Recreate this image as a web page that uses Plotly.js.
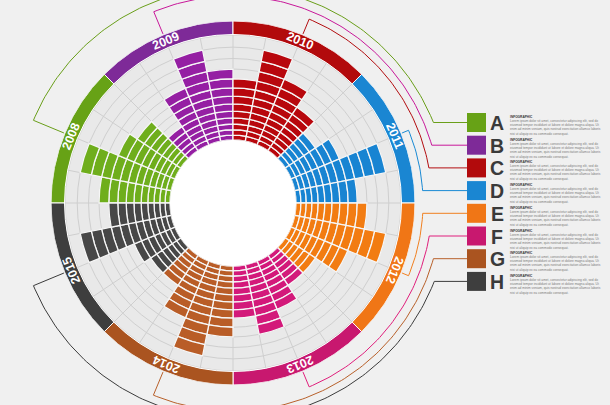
<!DOCTYPE html>
<html><head><meta charset="utf-8">
<script src="https://cdn.plot.ly/plotly-3.0.1.min.js"></script>
<style>html,body{margin:0;padding:0;background:#f0f0f0}#chart{width:610px;height:405px}</style>
</head><body><div id="chart"></div>
<script>
// ---- data ----
const years   = ['2008','2009','2010','2011','2012','2013','2014','2015'];
const letters = ['A','B','C','D','E','F','G','H'];
const cells2008 = [10, 12, 9, 8];
const cells2009 = [5, 9, 12, 10];
const cells2010 = [9, 12, 10, 8];
const cells2011 = [6, 8, 12, 9];
const cells2012 = [10, 12, 9, 6];
const cells2013 = [6, 8, 10, 8];
const cells2014 = [10, 12, 9, 6];
const cells2015 = [6, 7, 12, 9];
const legendTitle = 'INFOGRAPHIC';
const loremLines = [
  'Lorem ipsum dolor sit amet, consectetur adipiscing elit, sed do',
  'eiusmod tempor incididunt ut labore et dolore magna aliqua. Ut',
  'enim ad minim veniam, quis nostrud exercitation ullamco laboris',
  'nisi ut aliquip ex ea commodo consequat.'
];

// ---- styles ----
const barColors  = ['#6fae1c','#951fa3','#b8070d','#1884d2','#f27c12','#d3197a','#b95d27','#474747'];
const ringColors = ['#67a216','#7e2a98','#b20a0c','#1a86d2','#f07616','#c8186f','#aa5420','#3e3e3e'];
const lineColors = ['#6a9f1a','#c8189a','#b30d10','#1a8ad4','#f08020','#e01f7c','#b8602a','#3c3c3c'];
const lineRadii  = [216, 207, 199, 190, 190, 199, 208, 216];

const W = 610, H = 405;
const CX = 233, CY = 203, HOLE = 63, GRID_OUT = 168, RING_OUT = 182, NR = 13;
const BAR_W = 11.25;
const R = [];
for (let k = 0; k <= NR; k++) R.push(HOLE * Math.pow(GRID_OUT / HOLE, k / NR));

const series = [cells2008, cells2009, cells2010, cells2011, cells2012, cells2013, cells2014, cells2015];
const sectorStart = i => (270 + 45 * i) % 360;

const traces = [];
years.forEach((y, i) => {
  const th = [], base = [], r = [];
  series[i].forEach((n, j) => {
    for (let k = 0; k < n; k++) {
      th.push(sectorStart(i) + (j + 0.5) * BAR_W);
      base.push(R[k]);
      r.push(R[k + 1] - R[k]);
    }
  });
  traces.push({type: 'barpolar', subplot: 'polar', theta: th, base: base, r: r, width: BAR_W,
    marker: {color: barColors[i], line: {color: '#f6f6f6', width: 1.3}}, hoverinfo: 'skip', showlegend: false});
});
// outer year ring
traces.push({type: 'barpolar', subplot: 'polar',
  theta: years.map((y, i) => sectorStart(i) + 22.5), base: years.map(() => GRID_OUT + 0.5),
  r: years.map(() => RING_OUT - GRID_OUT - 0.5), width: 45,
  marker: {color: ringColors, line: {color: '#ffffff', width: 1}}, hoverinfo: 'skip', showlegend: false});

// connector lines & legend
const LEG_Y0 = 122.5, LEG_DY = 22.7, SQ_X0 = 467, SQ = 19;
const toXY = (rad, th) => [CX + rad * Math.sin(th * Math.PI / 180), CY - rad * Math.cos(th * Math.PI / 180)];
const annotations = [];
years.forEach((y, i) => {
  const ly = LEG_Y0 + i * LEG_DY;
  const Ra = lineRadii[i];
  let te = sectorStart(i) + 22.5;
  const dy = ly - CY, dx = Math.sqrt(Ra * Ra - dy * dy);
  const tl = Math.atan2(dx, -dy) * 180 / Math.PI;
  if (Math.abs(te - 360 - tl) < Math.abs(te - tl)) te -= 360;
  const xs = [], ys = [];
  let p = toXY(RING_OUT + 1, te); xs.push(p[0]); ys.push(p[1]);
  const steps = Math.ceil(Math.abs(tl - te));
  for (let s = 0; s <= steps; s++) {
    p = toXY(Ra, te + (tl - te) * s / steps); xs.push(p[0]); ys.push(p[1]);
  }
  xs.push(SQ_X0); ys.push(ly);
  traces.push({type: 'scatter', mode: 'lines', x: xs, y: ys, line: {color: lineColors[i], width: 1},
    hoverinfo: 'skip', showlegend: false, xaxis: 'x', yaxis: 'y'});

  // year label on ring
  const tc = sectorStart(i) + 22.5;
  const lp = toXY((GRID_OUT + RING_OUT) / 2, tc);
  const ang = tc > 180 ? tc - 360 : tc;
  annotations.push({x: lp[0], y: lp[1], xref: 'x', yref: 'y', text: '<b>' + y + '</b>', showarrow: false,
    textangle: ang, font: {family: 'Liberation Sans, Arial, sans-serif', size: 12.5, color: '#ffffff'},
    xanchor: 'center', yanchor: 'middle'});
  // letter
  annotations.push({x: SQ_X0 + SQ + 11, y: ly + 0.5, xref: 'x', yref: 'y', text: '<b>' + letters[i] + '</b>', showarrow: false,
    font: {family: 'Liberation Sans, Arial, sans-serif', size: 19.5, color: '#3a3a3a'}, xanchor: 'center', yanchor: 'middle',
    borderpad: 0});
  // tiny description block
  annotations.push({x: 508, y: ly - 9.5, xref: 'x', yref: 'y', showarrow: false, align: 'left',
    text: '<b><span style="color:#333333">' + legendTitle + '</span></b><br>' + loremLines.join('<br>'),
    font: {family: 'Liberation Sans, Arial, sans-serif', size: 3.2, color: '#7a7a7a'}, xanchor: 'left', yanchor: 'top'});
});
traces.push({type: 'scatter', mode: 'markers', x: years.map(() => SQ_X0 + SQ / 2),
  y: years.map((y, i) => LEG_Y0 + i * LEG_DY),
  marker: {symbol: 'square', size: SQ, color: ringColors, line: {width: 0}},
  hoverinfo: 'skip', showlegend: false, xaxis: 'x', yaxis: 'y'});

const layout = {
  width: W, height: H, margin: {l: 0, r: 0, t: 0, b: 0},
  paper_bgcolor: '#f0f0f0', plot_bgcolor: 'rgba(0,0,0,0)', showlegend: false,
  xaxis: {range: [0, W], visible: false, fixedrange: true, domain: [0, 1]},
  yaxis: {range: [H, 0], visible: false, fixedrange: true, domain: [0, 1]},
  polar: {
    domain: {x: [(CX - RING_OUT) / W, (CX + RING_OUT) / W], y: [(H - CY - RING_OUT) / H, (H - CY + RING_OUT) / H]},
    hole: HOLE / RING_OUT, bgcolor: '#e9e9e9', barmode: 'overlay',
    radialaxis: {range: [HOLE, RING_OUT], tickmode: 'array', tickvals: R.slice(1), showticklabels: false, ticks: '',
      showline: false, gridcolor: '#cfcfcf', gridwidth: 1},
    angularaxis: {rotation: 90, direction: 'clockwise', tickmode: 'array',
      tickvals: Array.from({length: 32}, (_, k) => k * BAR_W), showticklabels: false, ticks: '',
      showline: false, gridcolor: '#cfcfcf', gridwidth: 1}
  },
  shapes: [{type: 'circle', xref: 'x', yref: 'y', x0: CX - HOLE, x1: CX + HOLE, y0: CY - HOLE, y1: CY + HOLE,
    fillcolor: '#ffffff', line: {width: 0}, layer: 'below'}],
  annotations: annotations
};
Plotly.newPlot('chart', traces, layout, {displayModeBar: false, staticPlot: true});
</script></body></html>
